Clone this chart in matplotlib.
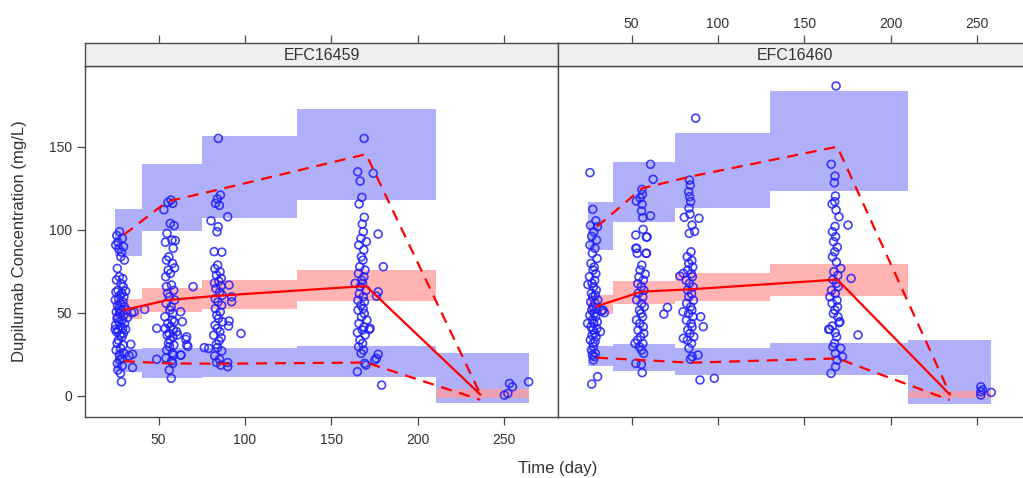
import numpy as np
import matplotlib
matplotlib.use('Agg')
import matplotlib.pyplot as plt

plt.rcParams['font.family'] = ['Liberation Sans', 'DejaVu Sans']

# ---------------- data ----------------
panel_titles = ['EFC16459', 'EFC16460']
x_ticks = [50, 100, 150, 200, 250]
y_ticks = [0, 50, 100, 150]

# simulated prediction intervals per time bin
left_bin_edges = [24.7, 40.5, 75.0, 130.0, 210.3, 264.0]
left_upper_lo = [84.1, 99.2, 106.9, 117.9, np.nan]
left_upper_hi = [112.3, 139.4, 156.4, 172.7, np.nan]
left_med_lo = [46.0, 50.6, 52.2, 57.3, -1.6]
left_med_hi = [58.1, 64.7, 69.7, 75.5, 3.8]
left_lower_lo = [14.5, 10.5, 11.5, 11.5, -4.2]
left_lower_hi = [27.9, 28.9, 28.9, 29.9, 25.5]

right_bin_edges = [24.6, 39.4, 75.0, 129.8, 210.0, 257.7]
right_upper_lo = [87.8, 104.5, 112.9, 123.4, np.nan]
right_upper_hi = [116.9, 141.0, 158.1, 183.6, np.nan]
right_med_lo = [49.2, 55.2, 57.2, 60.1, -1.6]
right_med_hi = [60.7, 69.3, 74.1, 79.2, 3.0]
right_lower_lo = [18.1, 14.9, 12.5, 12.5, -5.0]
right_lower_hi = [30.1, 31.0, 28.9, 31.5, 33.6]

# observed percentiles
left_pct_t = [30.0, 55.0, 84.0, 170.0, 236.0]
left_p50 = [51.6, 57.6, 60.2, 66.1, 0.8]
left_p95 = [97.0, 117.0, 124.0, 145.5, 1.2]
left_p05 = [20.8, 19.5, 19.3, 20.0, -2.4]

right_pct_t = [30.0, 56.0, 84.0, 169.0, 234.0]
right_p50 = [54.0, 62.7, 64.1, 70.0, 0.8]
right_p95 = [101.8, 124.9, 132.0, 150.0, 1.4]
right_p05 = [22.9, 21.5, 19.9, 22.5, -2.6]

# observations, left panel
A_c = [98.8, 96.5, 94.8, 92.5, 90.8, 89.8, 88.5, 86.5, 83.7, 81.7,
       76.7, 71.7, 70.5, 69.7, 67.5, 65.7, 63.5, 62.5, 61.7, 60.5,
       59.6, 58.5, 57.7, 56.5, 55.7, 54.5, 53.6, 52.5, 51.6, 50.5,
       49.6, 48.5, 47.6, 46.5, 45.6, 44.5, 43.6, 42.5, 41.6, 40.5,
       39.6, 38.5, 37.6, 36.5, 35.5, 33.5, 31.6, 30.5, 28.6, 27.5,
       25.5, 24.5, 22.5, 21.5, 19.5, 18.0, 15.5, 13.5, 8.4]
A_t = [27.5, 25.9, 29.1, 26.5, 25.3, 29.8, 27.0, 28.6, 28.2, 30.3,
       26.2, 27.3, 29.3, 25.7, 28.4, 29.6, 26.6, 25.4, 28.8, 27.7,
       30.0, 26.9, 25.0, 29.4, 27.9, 26.3, 30.2, 27.1, 28.5, 25.6,
       27.6, 29.9, 26.4, 26.0, 29.0, 27.2, 30.4, 25.2, 28.3, 29.2,
       26.7, 25.8, 29.7, 27.8, 28.9, 26.8, 26.1, 29.5, 28.1, 25.5,
       30.1, 27.4, 28.7, 27.6, 26.2, 29.0, 26.5, 28.0, 28.6]
Ax_t = [25.0, 31.0, 34.0, 35.0, 35.0, 34.5, 42.0, 31.0, 32.0, 33.0, 31.6, 36.0]
Ax_c = [40.0, 40.0, 31.0, 25.0, 17.0, 50.0, 52.0, 63.0, 47.0, 24.0, 51.5, 50.5]

B_c = [117.9, 116.5, 115.9, 112.0, 103.8, 102.5, 97.8, 93.8, 92.5, 88.8,
       83.7, 81.7, 79.7, 77.0, 75.7, 73.7, 71.7, 66.7, 63.5, 61.7,
       59.6, 57.7, 55.7, 53.5, 51.6, 49.6, 47.6, 45.6, 44.5, 43.6,
       41.6, 40.5, 39.6, 37.6, 36.5, 35.5, 33.6, 31.6, 30.5, 29.6,
       27.5, 25.5, 24.5, 22.7, 21.0, 19.5, 15.5, 10.5]
B_t = [57.2, 55.5, 58.2, 53.1, 56.8, 59.0, 54.9, 57.8, 54.0, 58.5,
       56.0, 54.6, 58.1, 59.3, 55.6, 56.9, 54.2, 57.5, 58.8, 55.2,
       56.3, 59.4, 54.4, 57.3, 56.6, 58.3, 53.7, 57.9, 59.1, 55.4,
       57.0, 53.9, 58.6, 56.1, 55.0, 58.4, 56.7, 55.8, 58.9, 56.4,
       54.7, 58.0, 58.7, 54.3, 57.6, 58.2, 56.2, 57.4]
Bx_t = [54.6, 70.0, 62.8, 63.8, 60.5, 66.3, 66.3, 49.0, 49.0, 63.0, 59.7, 61.0, 62.8, 65.8, 67.0]
Bx_c = [65.7, 65.7, 50.6, 44.6, 38.6, 35.5, 30.6, 40.6, 22.0, 24.5, 93.5, 36.6, 24.5, 34.0, 29.7]

C_c = [155.0, 120.9, 118.6, 115.9, 114.7, 101.8, 98.8, 86.8, 86.5, 78.7,
       76.5, 74.7, 72.7, 70.7, 69.0, 68.0, 66.0, 64.5, 62.5, 60.5,
       58.5, 56.5, 54.5, 52.5, 50.5, 48.5, 46.5, 44.5, 42.5, 40.5,
       38.5, 36.5, 35.0, 33.0, 31.0, 29.0, 27.0, 24.0, 22.0, 20.0,
       18.5]
C_t = [84.6, 85.8, 84.0, 83.0, 85.2, 84.5, 83.8, 82.2, 86.6, 84.2,
       82.6, 85.6, 83.5, 86.3, 84.9, 82.4, 86.1, 83.2, 85.4, 86.9,
       82.8, 84.4, 86.5, 82.9, 85.7, 83.7, 84.7, 87.1, 82.7, 84.0,
       85.5, 81.9, 86.2, 85.0, 83.4, 84.1, 86.6, 82.5, 85.3, 83.6,
       86.0]
Cx_t = [90.0, 80.4, 90.8, 92.3, 92.3, 90.8, 97.7, 76.5, 79.0, 90.0, 90.0, 90.5]
Cx_c = [107.8, 105.4, 66.7, 59.6, 56.6, 45.0, 37.5, 29.0, 28.5, 20.0, 17.5, 42.0]

D_c = [155.0, 134.9, 129.3, 119.5, 115.5, 107.5, 103.4, 98.8, 94.8, 92.8,
       90.8, 87.8, 83.7, 81.7, 77.7, 75.7, 73.7, 71.7, 69.5, 67.7,
       65.7, 63.5, 61.5, 59.6, 57.5, 56.6, 54.5, 52.5, 51.6, 49.5,
       47.5, 45.6, 43.5, 41.5, 39.6, 38.0, 36.6, 33.6, 31.5, 29.5,
       27.5, 25.5, 19.5, 18.5, 14.5]
D_t = [168.9, 165.2, 166.6, 167.6, 166.0, 169.0, 167.8, 168.4, 167.1, 170.2,
       165.8, 168.7, 167.3, 168.2, 166.4, 169.4, 165.6, 168.8, 167.6, 168.0,
       166.7, 170.0, 166.1, 168.4, 165.3, 169.1, 167.1, 168.3, 165.4, 169.0,
       167.4, 170.5, 165.9, 168.8, 167.9, 165.0, 169.5, 166.5, 168.0, 165.7,
       168.5, 167.2, 169.2, 170.0, 165.0]
Dx_t = [174.2, 177.0, 180.0, 163.7, 177.0, 176.0, 172.4, 176.0, 175.0, 179.0, 171.8, 177.0]
Dx_c = [134.0, 97.4, 77.7, 67.7, 62.6, 60.0, 40.6, 22.5, 21.5, 6.4, 39.9, 25.0]

E_t = [250.0, 252.0, 253.0, 254.7, 264.0]
E_c = [0.4, 1.4, 7.4, 5.4, 8.4]

# observations, right panel
RA_c = [134.4, 112.3, 105.4, 102.6, 101.8, 98.8, 96.0, 93.8, 90.8, 88.8,
        85.8, 82.7, 79.7, 77.5, 75.7, 73.5, 71.7, 69.5, 67.7, 65.7,
        63.7, 61.7, 60.5, 59.6, 57.7, 56.5, 55.7, 53.6, 52.5, 51.6,
        49.6, 48.5, 47.6, 45.6, 44.5, 43.6, 41.6, 40.5, 39.6, 37.6,
        36.5, 35.5, 33.6, 32.5, 31.6, 29.6, 27.5, 25.5, 24.5, 23.5,
        21.5, 7.0]
RA_t = [26.0, 27.6, 29.4, 26.3, 30.3, 28.2, 27.0, 29.8, 26.0, 28.9,
        27.4, 30.1, 26.6, 28.4, 27.8, 29.4, 25.7, 28.7, 27.2, 28.0,
        29.6, 26.8, 29.1, 27.6, 30.5, 26.4, 28.9, 27.8, 29.7, 27.0,
        28.4, 25.9, 29.3, 27.4, 30.2, 28.2, 26.6, 30.0, 27.6, 28.7,
        27.2, 29.5, 26.2, 28.9, 27.8, 28.0, 26.8, 29.1, 27.4, 28.4,
        28.0, 27.0]
RAx_t = [24.8, 24.6, 33.5, 34.3, 32.0, 30.4, 32.7]
RAx_c = [67.0, 43.6, 51.6, 50.0, 38.6, 11.5, 51.0]

RB_c = [124.3, 121.3, 119.2, 115.3, 111.3, 107.2, 100.2, 95.6, 88.8, 85.8,
        85.8, 78.7, 75.7, 73.3, 71.5, 69.7, 67.5, 65.7, 63.5, 61.7,
        59.5, 57.7, 55.5, 53.6, 51.5, 49.6, 47.5, 45.6, 43.5, 41.6,
        39.5, 37.6, 35.5, 33.6, 31.5, 29.5, 27.5, 25.5, 18.9, 13.9]
RB_t = [56.0, 56.3, 55.0, 56.1, 55.8, 56.5, 56.7, 58.6, 52.5, 58.6,
        53.3, 56.0, 55.0, 57.9, 54.3, 56.9, 53.6, 55.7, 57.2, 53.9,
        56.5, 53.0, 55.9, 57.4, 54.6, 55.5, 56.4, 52.9, 54.8, 56.8,
        53.8, 57.1, 55.3, 53.5, 56.6, 54.6, 55.8, 57.0, 55.7, 56.2]
RBx_t = [61.0, 62.5, 52.8, 61.0, 52.5, 59.0, 52.0, 52.5, 68.7, 70.8, 53.0, 58.5]
RBx_c = [139.4, 130.4, 117.3, 108.4, 96.8, 95.6, 31.6, 19.5, 49.2, 53.2, 88.8, 85.8]

RC_c = [129.9, 126.9, 122.9, 119.9, 116.9, 113.0, 109.4, 102.8, 97.8, 99.0,
        86.7, 83.7, 81.5, 79.7, 77.5, 75.7, 73.5, 71.7, 69.5, 67.7,
        65.5, 63.7, 61.5, 59.6, 57.5, 55.7, 53.5, 51.6, 49.5, 47.6,
        45.5, 43.6, 41.5, 39.6, 37.5, 35.5, 33.5, 31.6, 28.6, 23.5,
        22.0]
RC_t = [83.5, 84.0, 83.0, 83.6, 84.2, 83.3, 83.8, 85.0, 83.4, 86.5,
        84.4, 82.2, 84.9, 83.1, 85.4, 82.6, 84.6, 85.2, 81.6, 83.5,
        85.6, 82.4, 84.7, 83.1, 85.8, 81.9, 84.2, 84.9, 83.0, 85.5,
        81.8, 84.5, 85.0, 82.5, 83.8, 86.0, 82.3, 84.7, 83.2, 85.1,
        84.1]
RCx_t = [87.1, 80.5, 89.0, 78.0, 80.0, 79.8, 90.0, 91.5, 80.0, 88.5, 89.6, 97.9]
RCx_c = [167.2, 107.5, 106.9, 72.1, 73.7, 50.6, 47.6, 41.6, 34.6, 24.5, 9.5, 10.5]

RD_c = [186.6, 139.4, 132.3, 128.3, 120.3, 116.9, 115.5, 111.9, 102.0, 98.8,
        95.8, 92.8, 89.5, 86.7, 83.7, 80.5, 74.7, 72.5, 70.0, 67.7,
        65.7, 63.5, 61.5, 59.6, 57.5, 55.7, 53.5, 51.6, 49.5, 47.5,
        44.0, 42.0, 40.0, 38.0, 35.5, 31.6, 29.5, 25.5, 21.5, 17.5,
        13.5]
RD_t = [168.3, 165.5, 167.7, 167.3, 167.9, 167.5, 166.0, 168.3, 167.7, 166.2,
        168.0, 166.8, 169.0, 167.5, 166.2, 168.5, 167.0, 169.3, 166.4, 168.5,
        169.5, 165.6, 167.8, 164.7, 168.8, 166.0, 169.1, 167.6, 166.7, 169.4,
        170.0, 166.1, 164.6, 167.8, 168.6, 167.4, 166.5, 167.9, 168.9, 168.0,
        165.4]
RDx_t = [170.0, 175.2, 171.0, 177.0, 181.0, 171.0, 172.0, 170.5, 164.0]
RDx_c = [107.8, 102.8, 76.7, 70.7, 36.6, 28.6, 23.5, 44.6, 40.0]

RE_t = [252.0, 252.0, 252.0, 253.0, 258.0]
RE_c = [5.4, 2.4, 0.4, 3.5, 2.0]

left_obs_t = A_t + Ax_t + B_t + Bx_t + C_t + Cx_t + D_t + Dx_t + E_t
left_obs_c = A_c + Ax_c + B_c + Bx_c + C_c + Cx_c + D_c + Dx_c + E_c
right_obs_t = RA_t + RAx_t + RB_t + RBx_t + RC_t + RCx_t + RD_t + RDx_t + RE_t
right_obs_c = RA_c + RAx_c + RB_c + RBx_c + RC_c + RCx_c + RD_c + RDx_c + RE_c

# ---------------- layout ----------------
W, H = 1023, 478
fig = plt.figure(figsize=(W / 100, H / 100), dpi=100)

XLIM = (7.5, 281.0)
YLIM = (-12.8, 198.8)
panel_top, panel_bot = 65.7, 417.0
strip_top = 42.7
panel_w = 473.0
panel_x0 = [85.0, 558.0]

BLUE_BOX = '#B0B0FA'
RED_BOX = '#FF9A9A'
FRAME = '#4a4a4a'
TXT = '#333333'

panels = [
    dict(edges=left_bin_edges, ulo=left_upper_lo, uhi=left_upper_hi,
         mlo=left_med_lo, mhi=left_med_hi, llo=left_lower_lo, lhi=left_lower_hi,
         pt=left_pct_t, p50=left_p50, p95=left_p95, p05=left_p05,
         ot=left_obs_t, oc=left_obs_c),
    dict(edges=right_bin_edges, ulo=right_upper_lo, uhi=right_upper_hi,
         mlo=right_med_lo, mhi=right_med_hi, llo=right_lower_lo, lhi=right_lower_hi,
         pt=right_pct_t, p50=right_p50, p95=right_p95, p05=right_p05,
         ot=right_obs_t, oc=right_obs_c),
]

for i, p in enumerate(panels):
    x0 = panel_x0[i]
    ax = fig.add_axes([x0 / W, 1 - panel_bot / H, panel_w / W, (panel_bot - panel_top) / H])
    ax.set_xlim(*XLIM)
    ax.set_ylim(*YLIM)
    edges = np.array(p['edges'])
    left = edges[:-1]
    widths = np.diff(edges)
    for lo, hi, col, a, z in [(p['ulo'], p['uhi'], BLUE_BOX, 1.0, 1),
                              (p['llo'], p['lhi'], BLUE_BOX, 1.0, 1),
                              (p['mlo'], p['mhi'], RED_BOX, 0.75, 2)]:
        lo = np.array(lo, dtype=float)
        hi = np.array(hi, dtype=float)
        ok = ~np.isnan(lo)
        ax.bar(left[ok], (hi - lo)[ok], bottom=lo[ok], width=widths[ok], align='edge',
               color=col, alpha=a, linewidth=0, zorder=z)
    ax.scatter(p['ot'], p['oc'], s=32, facecolors='none', edgecolors='#1f1fff',
               linewidths=1.2, alpha=0.85, zorder=3)
    ax.plot(p['pt'], p['p50'], color='#ff0000', lw=1.6, zorder=4)
    ax.plot(p['pt'], p['p95'], color='#ff0000', lw=1.6, ls=(0, (5, 3.5)), zorder=4)
    ax.plot(p['pt'], p['p05'], color='#ff0000', lw=1.6, ls=(0, (5, 3.5)), zorder=4)

    for s in ax.spines.values():
        s.set_color(FRAME)
        s.set_linewidth(1.0)
    ax.set_xticks(x_ticks)
    ax.set_yticks(y_ticks)
    ax.tick_params(axis='both', colors=FRAME, labelcolor=TXT, labelsize=10,
                   direction='out', length=5.5, width=0.9, pad=6)
    if i == 0:
        ax.tick_params(axis='x', bottom=True, labelbottom=True, top=False)
        ax.tick_params(axis='y', left=True, labelleft=True, right=False, pad=4)
    else:
        ax.tick_params(axis='x', bottom=True, labelbottom=False, top=False)
        ax.tick_params(axis='y', left=False, labelleft=False, right=False)

    # strip
    sx = fig.add_axes([x0 / W, 1 - panel_top / H, panel_w / W, (panel_top - strip_top) / H])
    sx.set_facecolor('#EFEFEF')
    sx.set_xlim(*XLIM)
    sx.set_ylim(0, 1)
    sx.set_yticks([])
    sx.set_xticks(x_ticks)
    sx.tick_params(axis='x', bottom=False, labelbottom=False, top=True,
                   labeltop=(i == 1), direction='out', length=5.5, width=0.9,
                   colors=FRAME, labelcolor=TXT, labelsize=10, pad=3)
    for s in sx.spines.values():
        s.set_color(FRAME)
        s.set_linewidth(1.0)
    sx.text(0.5, 0.45, panel_titles[i], transform=sx.transAxes, ha='center',
            va='center', fontsize=11.5, color=TXT)

fig.text(558 / W, 1 - 468 / H, 'Time (day)', ha='center', va='center',
         fontsize=12, color=TXT)
fig.text(20 / W, 1 - 241 / H, 'Dupilumab Concentration (mg/L)', ha='center',
         va='center', rotation=90, fontsize=12, color=TXT)

fig.savefig('out.png', dpi=100)
